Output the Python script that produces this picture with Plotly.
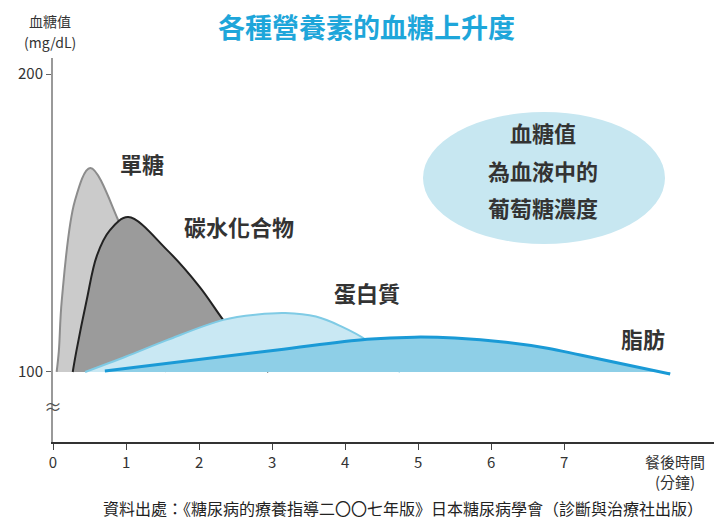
import plotly.graph_objects as go

# ---- data (time in hours after meal, blood glucose mg/dL) ----
sugar_t = [0.05, 0.08, 0.12, 0.30, 0.51, 0.88, 1.20, 1.55]
sugar_v = [100, 107, 124, 157.5, 168.5, 151.7, 128, 100]

carb_t = [0.27, 0.32, 0.46, 0.60, 0.78, 1.03, 1.56, 2.01, 2.33, 2.70, 2.95]
carb_v = [100, 107, 124, 139, 147.6, 152, 141, 128.5, 117.5, 106, 100]

protein_t = [0.44, 1.00, 1.56, 2.33, 2.80, 3.18, 3.60, 3.93, 4.30, 4.55, 4.75]
protein_v = [100, 105.2, 110.7, 117.5, 119.3, 119.8, 118.6, 115.5, 110.5, 104, 100]

fat_t = [0.71, 3.07, 4.30, 4.95, 5.50, 6.20, 6.77, 7.22, 8.45]
fat_v = [100.3, 107.4, 111, 111.7, 111.4, 110, 108, 105.7, 99.3]

x_ticks = [0, 1, 2, 3, 4, 5, 6, 7]
y_ticks = [100, 200]

labels = ["單糖", "碳水化合物", "蛋白質", "脂肪"]
title_text = "各種營養素的血糖上升度"
bubble_lines = ["血糖值", "為血液中的", "葡萄糖濃度"]
source_text = "資料出處：《糖尿病的療養指導二〇〇七年版》日本糖尿病學會（診斷與治療社出版）"

FONT = "Noto Sans CJK TC"
W, H = 716, 528
L, R, T, B = 53, 2, 58, 86
PW, PH = W - L - R, H - T - B


def px(x):
    return (x - L) / PW


def py(y):
    return (H - B - y) / PH


fig = go.Figure()

series = [
    (sugar_t, sugar_v, "#cbcbcb", "#8c8c8c", 2),
    (carb_t, carb_v, "#9b9b9b", "#222222", 2),
    (protein_t, protein_v, "#c9e8f3", "#7fcbe5", 2),
    (fat_t, fat_v, "#8ecfe7", "#1a9ad6", 3),
]

for t, v, fillc, linec, lw in series:
    fig.add_trace(go.Scatter(x=[t[0], t[-1]], y=[100, 100], mode="lines",
                             line=dict(width=0, color=fillc), hoverinfo="skip"))
    fig.add_trace(go.Scatter(x=t, y=v, mode="lines", fill="tonexty", fillcolor=fillc,
                             line=dict(color=linec, width=lw, shape="spline", smoothing=1.0),
                             hoverinfo="skip"))

fig.update_xaxes(range=[0, 9.05], tickvals=x_ticks, ticks="outside", ticklen=6,
                 tickcolor="#444", showline=True, linecolor="#333", linewidth=1.5,
                 showgrid=False, zeroline=False,
                 tickfont=dict(family=FONT, size=15, color="#333"))
fig.update_yaxes(range=[76.5, 205.4], tickvals=y_ticks, ticks="outside", ticklen=5,
                 tickcolor="#666", showline=True, linecolor="#999", linewidth=2,
                 showgrid=False, zeroline=False,
                 tickfont=dict(family=FONT, size=15, color="#333"))

ann = []
# title
ann.append(dict(text="<b>" + title_text + "</b>", x=px(366), y=py(27), font=dict(size=27, color="#1ea6da")))
# y axis title
ann.append(dict(text="血糖值", x=px(50), y=py(21), font=dict(size=14, color="#333")))
ann.append(dict(text="(mg/dL)", x=px(50), y=py(42), font=dict(size=14, color="#333")))
# x axis title
ann.append(dict(text="餐後時間<br>(分鐘)", x=px(675), y=py(471), font=dict(size=15, color="#333")))
# series labels
for txt, (cx, cy) in zip(labels, [(142, 163), (239, 226), (367, 292), (643, 338)]):
    ann.append(dict(text="<b>" + txt + "</b>", x=px(cx), y=py(cy), font=dict(size=22, color="#333")))
# bubble text
for txt, cy in zip(bubble_lines, [132, 170, 207]):
    ann.append(dict(text="<b>" + txt + "</b>", x=px(543), y=py(cy), font=dict(size=22, color="#333")))
# axis break
ann.append(dict(text="≈", x=px(53), y=py(406), font=dict(size=18, color="#555")))
# source
ann.append(dict(text=source_text, x=px(403), y=py(508), font=dict(size=16, color="#222")))

for a in ann:
    a.update(xref="paper", yref="paper", showarrow=False, xanchor="center", yanchor="middle")
    a["font"]["family"] = FONT

fig.update_layout(
    width=W, height=H, margin=dict(l=L, r=R, t=T, b=B),
    plot_bgcolor="white", paper_bgcolor="white", showlegend=False,
    annotations=ann,
    shapes=[dict(type="circle", xref="paper", yref="paper", layer="below",
                 x0=px(423), x1=px(665), y0=py(244), y1=py(112),
                 fillcolor="#c7e7f1", line=dict(width=0))],
    font=dict(family=FONT),
)

fig.write_html("out.html")
